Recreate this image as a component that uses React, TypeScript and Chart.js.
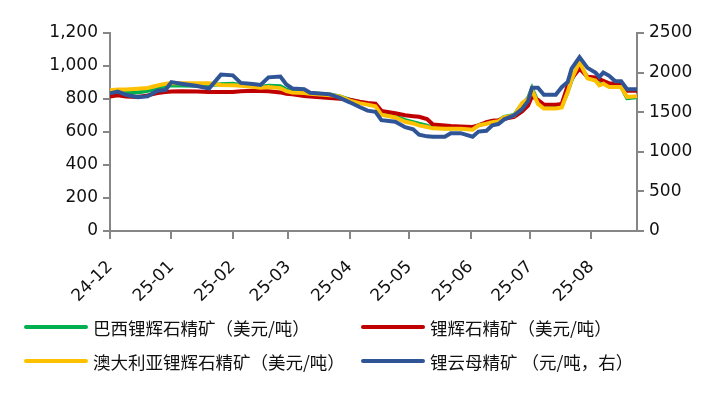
import React, { useEffect, useRef } from "react";
import { Chart, registerables } from "chart.js";

Chart.register(...registerables);

// ---- data ----
const dates = [
  "2024-12-01", "2024-12-05", "2024-12-09", "2024-12-15", "2024-12-20", "2024-12-25", "2024-12-29",
  "2025-01-01", "2025-01-06", "2025-01-14", "2025-01-20", "2025-01-26",
  "2025-02-01", "2025-02-05", "2025-02-11", "2025-02-15", "2025-02-19", "2025-02-25", "2025-02-28",
  "2025-03-03", "2025-03-09", "2025-03-12", "2025-03-17", "2025-03-22", "2025-03-27",
  "2025-04-01", "2025-04-06", "2025-04-10", "2025-04-14", "2025-04-17", "2025-04-24", "2025-04-29",
  "2025-05-03", "2025-05-06", "2025-05-10", "2025-05-13", "2025-05-19", "2025-05-22", "2025-05-27",
  "2025-06-02", "2025-06-05", "2025-06-09", "2025-06-12", "2025-06-15", "2025-06-18", "2025-06-23", "2025-06-27", "2025-06-30",
  "2025-07-02", "2025-07-05", "2025-07-08", "2025-07-14", "2025-07-17", "2025-07-20", "2025-07-22", "2025-07-26", "2025-07-30",
  "2025-08-03", "2025-08-05", "2025-08-07", "2025-08-10", "2025-08-13", "2025-08-16", "2025-08-19", "2025-08-24",
];

const brazilSpodumene = [
  842, 842, 840, 840, 850, 862, 878,
  883, 882, 880, 885, 890,
  892, 885, 878, 875, 880, 878, 858,
  845, 838, 834, 830, 827, 815,
  796, 780, 770, 762, 712, 695, 672,
  660, 650, 638, 625, 622, 622, 622,
  618, 642, 652, 662, 668, 692, 703, 770, 805,
  865, 780, 748, 748, 755, 845, 915, 1010, 930,
  915, 890, 895, 876, 875, 875, 805, 810,
];

const spodumene = [
  815, 822, 815, 812, 822, 836, 842,
  846, 847, 846, 842, 842,
  843, 847, 850, 848, 847, 840, 832,
  828, 818, 815, 810, 806, 802,
  796, 784, 776, 772, 728, 714, 702,
  696, 692, 678, 645, 640, 636, 634,
  630, 640, 660, 668, 672, 680, 692, 725, 760,
  816, 795, 766, 765, 770, 880, 925, 984, 935,
  930, 920, 910, 895, 892, 892, 850, 850,
];

const australiaSpodumene = [
  853, 857, 857, 862, 867, 882, 892,
  895, 895, 895, 895, 885,
  883, 880, 874, 868, 872, 866, 848,
  840, 836, 832, 828, 823, 816,
  790, 775, 766, 756, 705, 688, 662,
  652, 640, 630, 622, 620, 620, 620,
  614, 640, 650, 660, 665, 690, 700, 775, 800,
  855, 770, 742, 742, 748, 842, 920, 1025, 925,
  912, 883, 893, 872, 872, 872, 812, 816,
];

const lepidolite = [
  1740, 1760, 1720, 1690, 1700, 1770, 1780,
  1880, 1860, 1830, 1800, 1975,
  1965, 1870, 1855, 1845, 1940, 1950, 1850,
  1800, 1790, 1745, 1735, 1725, 1680,
  1625, 1565, 1520, 1505, 1400, 1380, 1310,
  1285, 1215, 1195, 1190, 1190, 1235, 1235,
  1190, 1255, 1265, 1335, 1350, 1410, 1460, 1540, 1640,
  1810, 1810, 1720, 1720, 1815, 1880, 2050, 2195, 2060,
  2000, 1945, 2000, 1960, 1890, 1890, 1790, 1790,
];

const seriesNames = [
  "巴西锂辉石精矿（美元/吨）",
  "锂辉石精矿（美元/吨）",
  "澳大利亚锂辉石精矿（美元/吨）",
  "锂云母精矿 （元/吨，右）",
];
const seriesColors = ["#00B050", "#C00000", "#FFC000", "#2F5597"];

const tickDates = [
  "2024-12-01", "2025-01-01", "2025-02-01", "2025-03-01", "2025-04-01",
  "2025-05-01", "2025-06-01", "2025-07-01", "2025-08-01",
];
const tickLabels = ["24-12", "25-01", "25-02", "25-03", "25-04", "25-05", "25-06", "25-07", "25-08"];
const xStartDate = "2024-12-01";
const xEndDate = "2025-08-24";

const leftMax = 1200;
const leftStep = 200;
const rightMax = 2500;
const rightStep = 500;

// ---- helpers ----
const DAY_MS = 86400000;
const toUTC = (s: string) => {
  const [y, m, d] = s.split("-").map(Number);
  return Date.UTC(y, m - 1, d);
};
const baseMs = toUTC(xStartDate);
const toDay = (s: string) => (toUTC(s) - baseMs) / DAY_MS;

const AXIS_COLOR = "#868686";
const TICK_FONT = { family: "'DejaVu Sans', sans-serif", size: 17 };

const legendPlugin = {
  id: "twoColumnLegend",
  afterDraw(chart: any) {
    const ctx = chart.ctx as CanvasRenderingContext2D;
    const colX = [25, 362];
    const rowY = [327, 361];
    chart.data.datasets.forEach((ds: any, i: number) => {
      const x = colX[i % 2];
      const y = rowY[Math.floor(i / 2)];
      ctx.save();
      ctx.strokeStyle = ds.borderColor;
      ctx.lineWidth = 4;
      ctx.lineCap = "round";
      ctx.beginPath();
      ctx.moveTo(x + 1, y);
      ctx.lineTo(x + 61, y);
      ctx.stroke();
      ctx.fillStyle = "#111";
      ctx.font = "17.5px 'Noto Sans CJK SC', sans-serif";
      ctx.textBaseline = "middle";
      ctx.textAlign = "left";
      ctx.fillText(ds.label, x + 68, y + 1);
      ctx.restore();
    });
  },
};

export default function App() {
  const canvasRef = useRef<HTMLCanvasElement | null>(null);

  useEffect(() => {
    if (!canvasRef.current) return;
    const xs = dates.map(toDay);
    const mk = (vals: number[]) => vals.map((v, i) => ({ x: xs[i], y: v }));
    const valueSets = [brazilSpodumene, spodumene, australiaSpodumene, lepidolite];
    const orders = [3, 2, 1, 0];

    const datasets = valueSets.map((vals, i) => ({
      label: seriesNames[i],
      data: mk(vals),
      borderColor: seriesColors[i],
      backgroundColor: seriesColors[i],
      borderWidth: 4,
      pointRadius: 0,
      tension: 0,
      fill: false,
      order: orders[i],
      yAxisID: i === 3 ? "yRight" : "yLeft",
    }));

    const chart = new Chart(canvasRef.current, {
      type: "line",
      data: { datasets },
      options: {
        animation: false,
        responsive: false,
        devicePixelRatio: 1,
        layout: { padding: { top: 33, left: 0, right: 0, bottom: 0 } },
        plugins: {
          legend: { display: false },
          tooltip: { enabled: false },
        },
        scales: {
          x: {
            type: "linear",
            min: 0,
            max: toDay(xEndDate),
            afterBuildTicks: (axis: any) => {
              axis.ticks = tickDates.map((d) => ({ value: toDay(d) }));
            },
            afterFit: (axis: any) => {
              axis.height = 165;
            },
            ticks: {
              autoSkip: false,
              minRotation: 45,
              maxRotation: 45,
              padding: 18,
              color: "#111",
              font: TICK_FONT,
              callback: (_v: any, index: number) => tickLabels[index],
            },
            grid: {
              drawOnChartArea: false,
              drawTicks: true,
              tickLength: 8,
              color: AXIS_COLOR,
              lineWidth: 2,
            },
            border: { display: true, color: AXIS_COLOR, width: 2 },
          },
          yLeft: {
            type: "linear",
            position: "left",
            min: 0,
            max: leftMax,
            afterFit: (axis: any) => {
              axis.width = 110;
            },
            ticks: {
              stepSize: leftStep,
              padding: 5,
              color: "#111",
              font: TICK_FONT,
              callback: (v: any) => Number(v).toLocaleString("en-US"),
            },
            grid: {
              drawOnChartArea: false,
              drawTicks: true,
              tickLength: 7,
              color: AXIS_COLOR,
              lineWidth: 2,
            },
            border: { display: true, color: AXIS_COLOR, width: 2 },
          },
          yRight: {
            type: "linear",
            position: "right",
            min: 0,
            max: rightMax,
            afterFit: (axis: any) => {
              axis.width = 77;
            },
            ticks: {
              stepSize: rightStep,
              padding: 5,
              color: "#111",
              font: TICK_FONT,
              callback: (v: any) => String(v),
            },
            grid: {
              drawOnChartArea: false,
              drawTicks: true,
              tickLength: 7,
              color: AXIS_COLOR,
              lineWidth: 2,
            },
            border: { display: true, color: AXIS_COLOR, width: 2 },
          },
        },
      } as any,
      plugins: [legendPlugin],
    });

    return () => chart.destroy();
  }, []);

  return (
    <div style={{ position: "absolute", left: 0, top: 0, width: 714, height: 396, background: "#fff" }}>
      <canvas ref={canvasRef} width={714} height={396} style={{ width: 714, height: 396, display: "block" }} />
    </div>
  );
}
